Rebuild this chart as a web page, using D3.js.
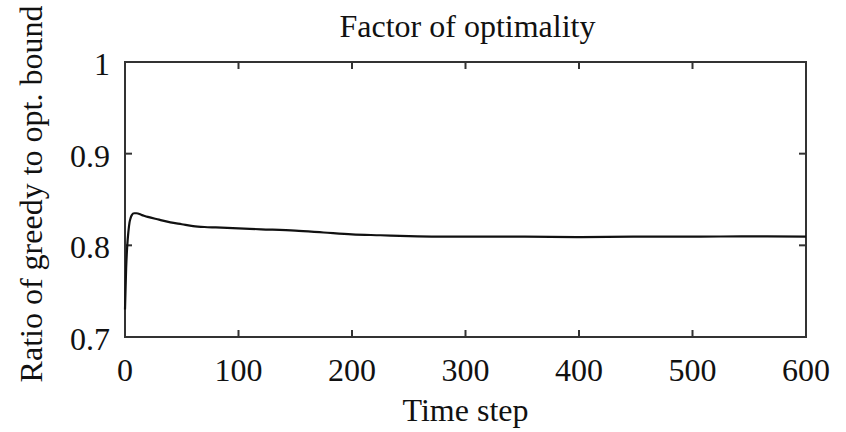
<!DOCTYPE html>
<html>
<head>
<meta charset="utf-8">
<script src="https://cdn.jsdelivr.net/npm/d3@7"></script>
<style>
  html, body { margin: 0; padding: 0; background: #fff; }
</style>
</head>
<body>
<svg id="chart" width="846" height="432"></svg>
<script>
const timeSteps = [0, 1, 2, 3, 4, 5, 6, 8, 10, 15, 20, 30, 40, 50, 60, 70, 80, 100, 120, 150, 175, 200, 225, 250, 275, 300, 350, 400, 450, 500, 550, 600];
const ratios    = [0.73, 0.775, 0.80, 0.815, 0.825, 0.83, 0.833, 0.835, 0.835, 0.833, 0.831, 0.828, 0.825, 0.823, 0.821, 0.820, 0.8195, 0.8185, 0.8175, 0.816, 0.814, 0.812, 0.811, 0.810, 0.8095, 0.8095, 0.8095, 0.809, 0.8095, 0.8095, 0.8098, 0.8095];
const xTicks = [0, 100, 200, 300, 400, 500, 600];
const yTicks = [0.7, 0.8, 0.9, 1];
const yTickLabels = ["0.7", "0.8", "0.9", "1"];
const titleText = "Factor of optimality";
const xLabel = "Time step";
const yLabel = "Ratio of greedy to opt. bound";

const svg = d3.select("#chart");
const FONT = "'Liberation Serif', 'Times New Roman', Times, 'DejaVu Serif', serif";
const L = 125, R = 806, T = 62, B = 337;
const x = d3.scaleLinear().domain([0, 600]).range([L, R]);
const y = d3.scaleLinear().domain([0.7, 1]).range([B, T]);
const fs = 32;
const axisColor = "#333";

function txt(xp, yp, anchor, s) {
  return svg.append("text").attr("x", xp).attr("y", yp).attr("text-anchor", anchor)
    .attr("font-family", FONT).attr("font-size", fs).attr("fill", "#111").text(s);
}

// frame
svg.append("rect").attr("x", L).attr("y", T).attr("width", R - L).attr("height", B - T)
  .attr("fill", "none").attr("stroke", axisColor).attr("stroke-width", 2);

const tl = 7;
xTicks.forEach(v => {
  svg.append("line").attr("x1", x(v)).attr("x2", x(v)).attr("y1", B).attr("y2", B - tl)
    .attr("stroke", axisColor).attr("stroke-width", 2);
  svg.append("line").attr("x1", x(v)).attr("x2", x(v)).attr("y1", T).attr("y2", T + tl)
    .attr("stroke", axisColor).attr("stroke-width", 2);
  txt(x(v), 381, "middle", v);
});
yTicks.forEach((v, i) => {
  svg.append("line").attr("x1", L).attr("x2", L + tl).attr("y1", y(v)).attr("y2", y(v))
    .attr("stroke", axisColor).attr("stroke-width", 2);
  svg.append("line").attr("x1", R).attr("x2", R - tl).attr("y1", y(v)).attr("y2", y(v))
    .attr("stroke", axisColor).attr("stroke-width", 2);
  txt(110, y(v) + 13, "end", yTickLabels[i]);
});

const line = d3.line().x((d, i) => x(timeSteps[i])).y(d => y(d)).curve(d3.curveMonotoneX);
svg.append("path").datum(ratios).attr("d", line).attr("fill", "none")
  .attr("stroke", "#111").attr("stroke-width", 2.2).attr("stroke-linejoin", "round");

txt((L + R) / 2 + 2, 37, "middle", titleText);
txt((L + R) / 2, 421, "middle", xLabel);
svg.append("text").attr("transform", "translate(42,194) rotate(-90)").attr("text-anchor", "middle")
  .attr("font-family", FONT).attr("font-size", fs).attr("fill", "#111").text(yLabel);
</script>
</body>
</html>
